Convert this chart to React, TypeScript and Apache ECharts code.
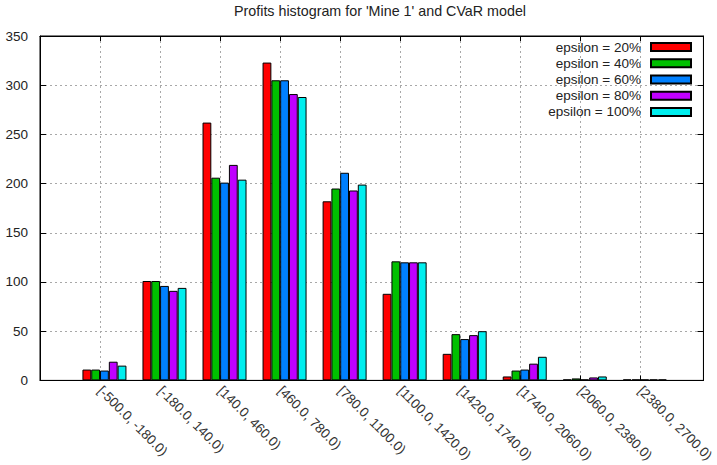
import React, { useEffect, useRef } from 'react';
import * as echarts from 'echarts';

// Profit bins (one group of bars per bin)
const binLabels = [
  '[-500.0, -180.0)',
  '[-180.0, 140.0)',
  '[140.0, 460.0)',
  '[460.0, 780.0)',
  '[780.0, 1100.0)',
  '[1100.0, 1420.0)',
  '[1420.0, 1740.0)',
  '[1740.0, 2060.0)',
  '[2060.0, 2380.0)',
  '[2380.0, 2700.0)',
];

const seriesNames = [
  'epsilon = 20%',
  'epsilon = 40%',
  'epsilon = 60%',
  'epsilon = 80%',
  'epsilon = 100%',
];

// Counts per bin
const eps20 = [11, 101, 262, 323, 182, 88, 27, 4, 1, 1];
const eps40 = [11, 101, 206, 305, 195, 121, 47, 10, 2, 1];
const eps60 = [10, 96, 201, 305, 211, 120, 42, 11, 1, 1];
const eps80 = [19, 91, 219, 291, 193, 120, 46, 17, 3, 1];
const eps100 = [15, 94, 204, 288, 199, 120, 50, 24, 4, 1];

const yMax = 350;
const yStep = 50;

const colors = ['#ff0000', '#00c000', '#0080ff', '#c000ff', '#00eeee'];

const FONT = '"Liberation Sans", Arial, sans-serif';
const FONT_SIZE = 13.5;

export default function App() {
  const ref = useRef<HTMLDivElement>(null);

  useEffect(() => {
    if (!ref.current) return;
    const chart = echarts.init(ref.current, null, { renderer: 'svg' });
    const allSeries = [eps20, eps40, eps60, eps80, eps100];
    const binIdx = binLabels.map((_, i) => i);

    const barSeries = allSeries.map((vals, k) => ({
      name: seriesNames[k],
      type: 'bar',
      barWidth: 8.8,
      barGap: '0%',
      data: vals.map((v, i) => [i, v]),
      itemStyle: { color: colors[k], borderColor: '#000', borderWidth: 1 },
    }));

    // Empty leading slot so each cluster sits just right of its tick
    const spacer = {
      name: '_spacer',
      type: 'bar',
      barWidth: 8.8,
      barGap: '0%',
      data: [],
      silent: true,
    };

    const gridLine = { show: true, lineStyle: { color: '#a8a8a8', type: [2, 3], width: 1 } };
    const frameLine = { show: true, onZero: false, lineStyle: { color: '#000' } };

    chart.setOption({
      animation: false,
      textStyle: { fontFamily: FONT },
      title: {
        text: "Profits histogram for 'Mine 1' and CVaR model",
        left: 234,
        top: 4,
        padding: 0,
        textStyle: { fontFamily: FONT, fontSize: 14.3, fontWeight: 'normal', color: '#222' },
      },
      legend: {
        data: seriesNames,
        orient: 'vertical',
        align: 'right',
        right: 25,
        top: 39,
        padding: 0,
        itemGap: 0,
        itemWidth: 40,
        itemHeight: 8,
        icon: 'rect',
        selectedMode: false,
        textStyle: {
          fontFamily: FONT,
          fontSize: FONT_SIZE,
          color: '#222',
          lineHeight: 16.2,
          padding: [0, 5, 0, 0],
        },
      },
      grid: {
        left: 40,
        right: 6,
        top: 36,
        bottom: 83,
        show: true,
        borderColor: '#000',
        borderWidth: 1,
      },
      xAxis: [
        {
          type: 'value',
          min: -1,
          max: 10.05,
          interval: 1,
          position: 'bottom',
          axisLine: frameLine,
          axisTick: { show: true, inside: true, length: 5, customValues: binIdx, lineStyle: { color: '#000' } },
          axisLabel: {
            customValues: binIdx,
            rotate: -45,
            margin: 8,
            fontFamily: FONT,
            fontSize: FONT_SIZE,
            color: '#333',
            formatter: (v: number) => binLabels[Math.round(v)] ?? '',
          },
          splitLine: gridLine,
        },
        {
          type: 'value',
          min: -1,
          max: 10.05,
          interval: 1,
          position: 'top',
          axisLine: frameLine,
          axisTick: { show: true, inside: true, length: 5, customValues: binIdx, lineStyle: { color: '#000' } },
          axisLabel: { show: false },
          splitLine: { show: false },
        },
      ],
      yAxis: [
        {
          type: 'value',
          min: 0,
          max: yMax,
          interval: yStep,
          position: 'left',
          axisLine: frameLine,
          axisTick: { show: true, inside: true, length: 6, lineStyle: { color: '#000' } },
          axisLabel: { margin: 12, fontFamily: FONT, fontSize: FONT_SIZE, color: '#222' },
          splitLine: gridLine,
        },
        {
          type: 'value',
          min: 0,
          max: yMax,
          interval: yStep,
          position: 'right',
          axisLine: frameLine,
          axisTick: { show: true, inside: true, length: 6, lineStyle: { color: '#000' } },
          axisLabel: { show: false },
          splitLine: { show: false },
        },
      ],
      series: [spacer, ...barSeries],
    });

    return () => chart.dispose();
  }, []);

  return (
    <div
      ref={ref}
      style={{ position: 'fixed', left: 0, top: 0, width: 717, height: 465, background: '#fff' }}
    />
  );
}
